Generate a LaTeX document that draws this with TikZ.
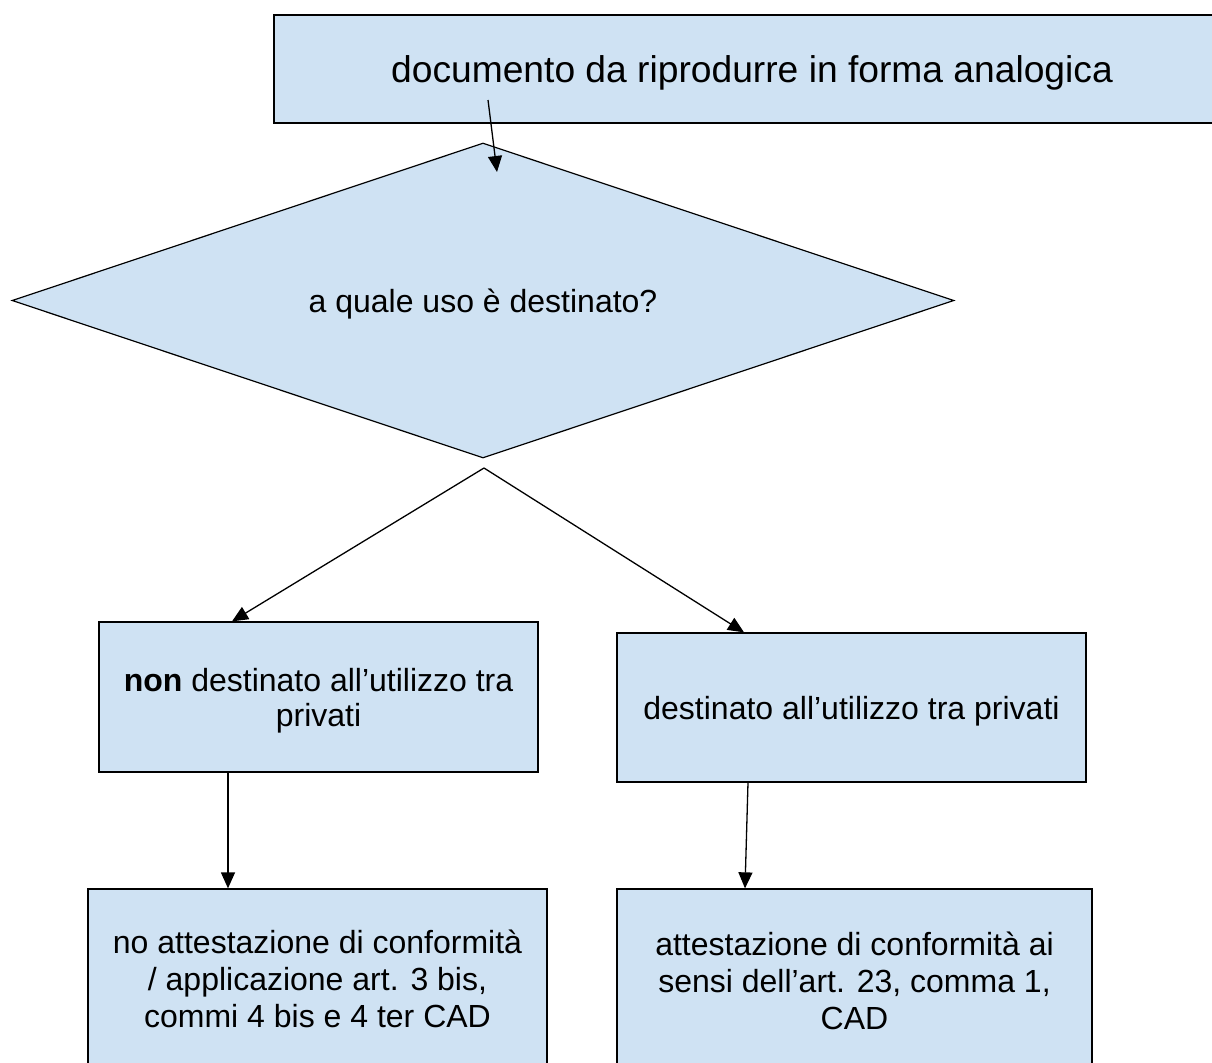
\documentclass[tikz,border=0pt]{standalone}
\usepackage{fontspec}
\setmainfont{Liberation Sans}
\usetikzlibrary{shapes.geometric,arrows.meta}
\definecolor{boxblue}{HTML}{CFE2F3}

\begin{document}
\begin{tikzpicture}[x=0.5pt, y=-0.5pt,
        box/.style={draw, line width=0.65pt, fill=boxblue, align=center, inner sep=0pt,
            font=\fontsize{16}{17.5}\selectfont},
        choice/.style={diamond, aspect=3, draw, line width=0.6pt, fill=boxblue, inner sep=0pt,
            font=\fontsize{16}{17.5}\selectfont},
        flow/.style={line width=0.65pt, -{Triangle[length=8pt,width=7pt]}}]
        \useasboundingbox (0,0) rectangle (1212,1062);
        \clip (0,0) rectangle (1212,1062);
        \node [box, minimum width=478pt, minimum height=54pt, text depth=0pt, font=\fontsize{18.6}{22}\selectfont]
            (doc) at (752,69) {documento da riprodurre in forma analogica};
        \node [choice, minimum width=471pt, minimum height=157.5pt, text depth=0pt]
            (uso) at (483,300.5) {a quale uso è destinato?};
        \node [box, minimum width=219.5pt, minimum height=75pt, text depth=0pt]
            (nonpriv) at (318.5,697) {\textbf{non} destinato all’utilizzo tra\\privati};
        \node [box, minimum width=234.5pt, minimum height=74.5pt, text depth=0pt]
            (priv) at (851.5,707.5) {destinato all’utilizzo tra privati};
        \node [box, minimum width=229.5pt, minimum height=90pt, font=\fontsize{16}{18.5}\selectfont]
            (noatt) at (317.5,979) {no attestazione di conformità\\/ applicazione art. 3 bis,\\commi 4 bis e 4 ter CAD};
        \node [box, minimum width=237.5pt, minimum height=92pt, font=\fontsize{16}{18.5}\selectfont]
            (att) at (854.5,981) {attestazione di conformità ai\\sensi dell’art. 23, comma 1,\\CAD};
        % connectors
        \coordinate (start) at (488,100);
        \coordinate (entry) at (497,172);
        \coordinate (fork) at (484,468);
        \draw [flow] (start) -- (entry);
        \draw [flow] (fork) -- ([xshift=-43.25pt]nonpriv.north);
        \draw [flow] (fork) -- ([xshift=-53.75pt]priv.north);
        \draw [flow] ([xshift=-45.25pt]nonpriv.south) -- ([xshift=-44.75pt]noatt.north);
        \draw [flow] ([xshift=-51.75pt]priv.south) -- ([xshift=-54.75pt]att.north);
    \end{tikzpicture}
\end{document}
